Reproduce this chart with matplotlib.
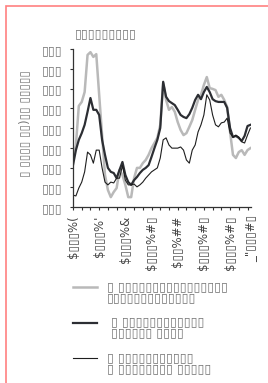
import numpy as np
import matplotlib
matplotlib.use("Agg")
import matplotlib.pyplot as plt
from matplotlib.lines import Line2D
from matplotlib.patches import Rectangle

# monthly points
months = np.arange(62)
series_a = [119, 157, 256, 266, 291, 385, 392, 380, 387, 284,
            182, 81, 43, 25, 38, 48, 94, 81, 56, 25,
            25, 73, 99, 99, 111, 119, 132, 149, 162, 175,
            208, 314, 271, 246, 253, 241, 215, 195, 182, 187,
            203, 220, 246, 271, 284, 309, 329, 301, 299, 296,
            279, 284, 271, 253, 190, 132, 124, 139, 144, 132,
            144, 149]
series_b = [106, 144, 170, 187, 208, 241, 276, 246, 246, 233,
            170, 132, 99, 89, 86, 73, 94, 114, 81, 63,
            56, 68, 76, 86, 94, 99, 106, 127, 149, 170,
            200, 317, 279, 268, 263, 258, 246, 233, 228, 225,
            235, 251, 271, 284, 273, 291, 304, 291, 273, 268,
            266, 266, 266, 251, 200, 177, 180, 175, 167, 180,
            205, 208]
series_c = [30, 28, 48, 63, 89, 139, 132, 111, 144, 144,
            99, 63, 56, 63, 61, 73, 73, 105, 68, 56,
            56, 58, 51, 56, 63, 73, 81, 89, 94, 99,
            124, 170, 175, 157, 149, 149, 149, 152, 144, 119,
            111, 144, 157, 190, 208, 233, 284, 271, 233, 208,
            203, 213, 215, 225, 187, 177, 182, 177, 165, 162,
            182, 200]

B = "\u25af"  # stands in for the unreadable glyphs
y_ticks = [0, 50, 100, 150, 200, 250, 300, 350, 400]
y_tick_labels = [B * 3] * 9
x_label_pos = [0, 9, 18, 27, 36, 45, 54]
x_labels = ["$BBB%(", "$BBB%'", "$BBB%&", "$BBB%#B", "$BB%##",
            "$BBB%#B", "$BBB%#B"]
x_labels = [s.replace("B", B) for s in x_labels]
last_label = "_\"" + B * 3 + "#" + B
title = B * 9
y_title = "B BBBB BB)BB BBBBB".replace("B", B)
legend_labels = ["B BBBBBBBBBBBBBBBB\nBBBBBBBBBBBBB",
                 " B BBBBBBBBBBBB\n BBBBBB BBBB",
                 "B BBBBBBBBBBB\nB BBBBBBBB BBBBB"]
legend_labels = [s.replace("B", B) for s in legend_labels]

W, H = 268, 383
fig = plt.figure(figsize=(W / 100, H / 100), dpi=100)
ax = fig.add_axes([73 / W, 1 - 207 / H, 178 / W, 158 / H])

txt = '#777777'
fs = 9
styles = [dict(color='#b9b9b9', lw=1.8),
          dict(color='#2c2e33', lw=1.6),
          dict(color='#1e1e1e', lw=0.8)]
for s, st in zip([series_a, series_b, series_c], styles):
    ax.plot(months, s, **st)

ax.set_xlim(0, 61.2)
ax.set_ylim(0, 400)
ax.set_yticks(y_ticks, labels=y_tick_labels)
ax.set_xticks(range(0, 61, 3))
ax.set_xticklabels([x_labels[x_label_pos.index(t)] if t in x_label_pos else ""
                    for t in range(0, 61, 3)], rotation=90)
ax.set_xticks([61], labels=[last_label], minor=True, rotation=90)
ax.tick_params(axis='x', which='minor', length=0, pad=6, labelsize=8.5, labelcolor='#444444')
ax.tick_params(axis='both', which='major', length=2.5, width=0.8, color='#333333', pad=3.5)
ax.tick_params(axis='y', labelcolor=txt, labelsize=fs, pad=5)
ax.tick_params(axis='x', labelcolor='#444444', labelsize=8.5)
for sp in ['top', 'right']:
    ax.spines[sp].set_visible(False)
for sp in ['left', 'bottom']:
    ax.spines[sp].set_color('#333333')
    ax.spines[sp].set_linewidth(0.9)

fig.text(75 / W, 1 - 34 / H, title, fontsize=fs, color=txt, va='center', ha='left')
fig.text(25 / W, 1 - 124 / H, y_title, fontsize=8.5, color=txt, rotation=90,
         va='center', ha='center')

# legend drawn by hand: handle lines up with the first text line
handle_y = [287, 323, 358]
text_y = [292, 327, 363]
for hy, ty, lab, st in zip(handle_y, text_y, legend_labels, styles):
    fig.add_artist(Line2D([73 / W, 97 / W], [1 - hy / H, 1 - hy / H],
                          transform=fig.transFigure, **st))
    fig.text(107 / W, 1 - ty / H, lab, fontsize=fs, color=txt, va='center',
             linespacing=0.85)

# red frame edge (left and top visible)
fig.add_artist(Rectangle((6 / W, -0.1), 1.2, 1 - 6 / H + 0.1, transform=fig.transFigure,
                         fill=False, edgecolor='#ff8080', lw=1.2))

fig.savefig("out.png", dpi=100)
